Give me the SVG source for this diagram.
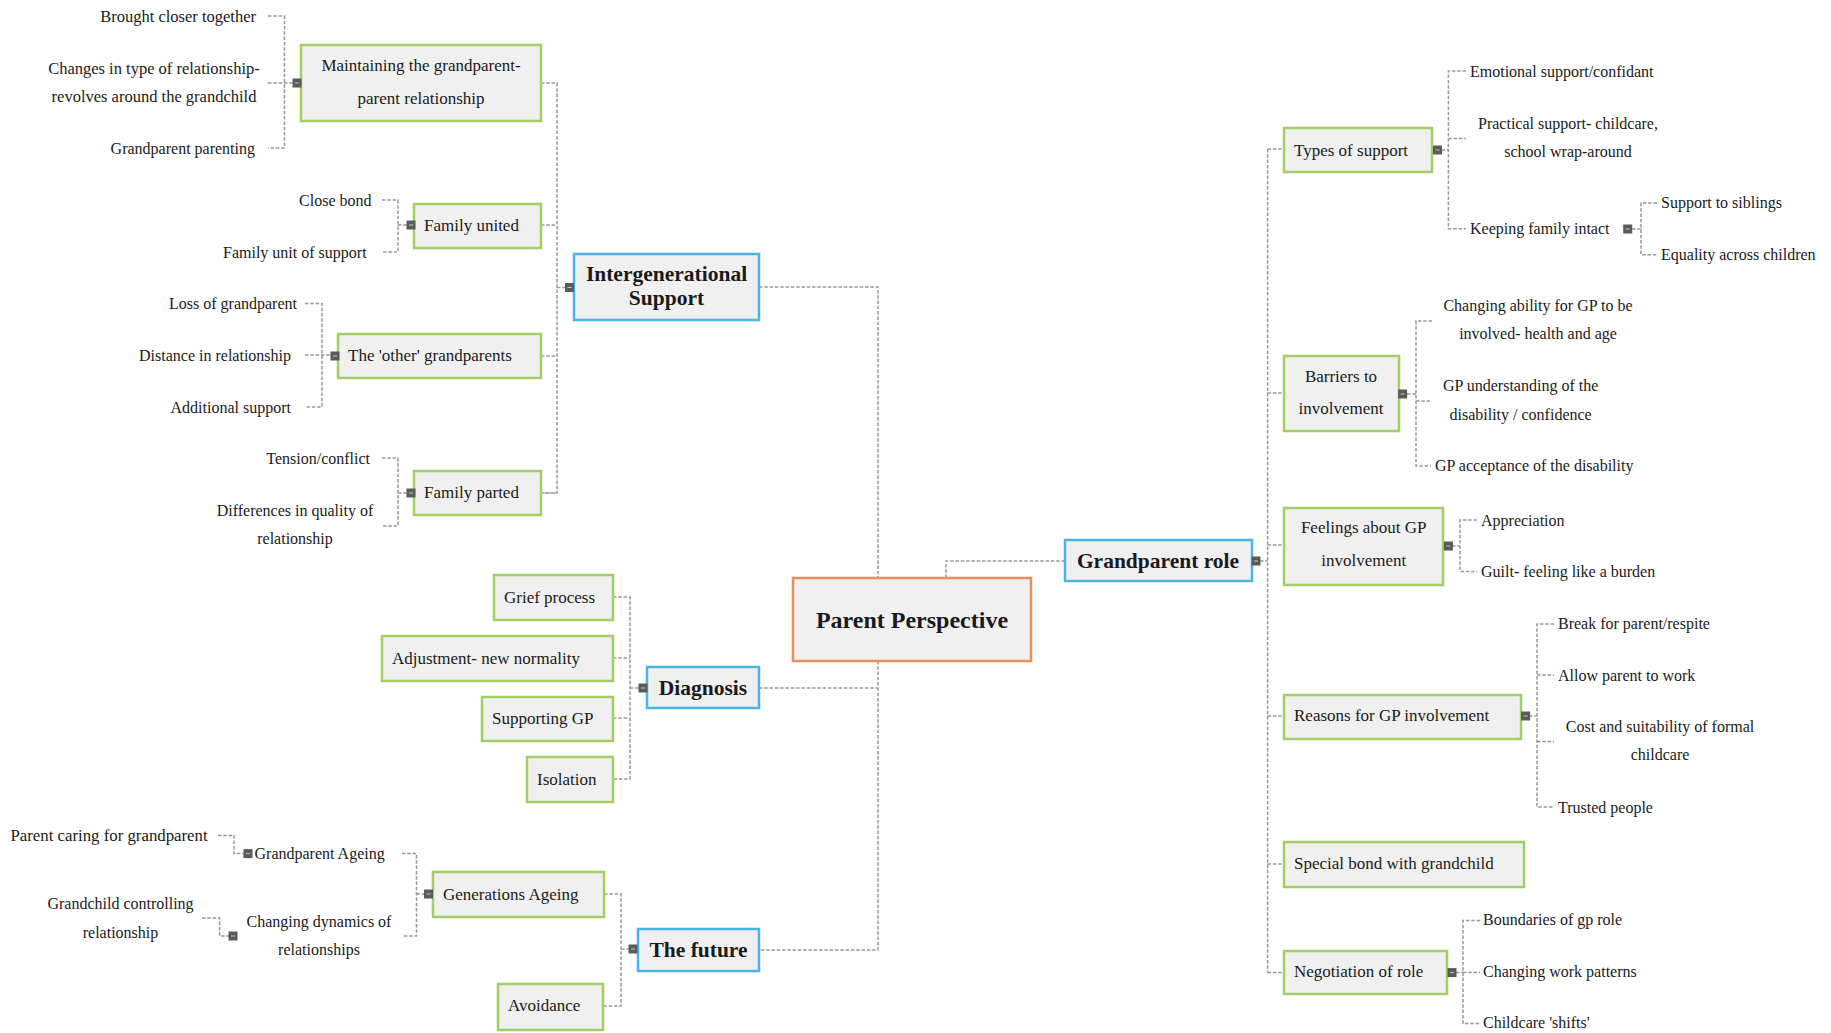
<svg xmlns="http://www.w3.org/2000/svg" xmlns:xlink="http://www.w3.org/1999/xlink" width="1831" height="1033" viewBox="0 0 1831 1033">
<style>
text{font-family:"Liberation Serif","Times New Roman",serif;fill:#1a1a1a}
.lf{font-size:16px}
.bx{font-size:17px}
.hd{font-size:21.5px;font-weight:bold}
.c{text-anchor:middle}
.r{text-anchor:end}
.g{fill:#f0f0f0;stroke:#a2cf64;stroke-width:2.5}
.b{fill:#f0f0f0;stroke:#4ab4e4;stroke-width:2.5}
.o{fill:#f0f0f0;stroke:#e8905e;stroke-width:2.5}
.cn path{fill:none;stroke:#999999;stroke-width:1.5;stroke-dasharray:3.5 1.8}
</style>
<defs>
<g id="tg"><rect x="-4.5" y="-4.5" width="9" height="9" fill="#5a5a5a"/><line x1="-2" y1="0" x2="2" y2="0" stroke="#c8c8c8" stroke-width="1"/></g>
</defs>
<rect width="1831" height="1033" fill="#ffffff"/>
<g id="connectors" class="cn">
<path d="M759 287 H878 V950 H759 M759 688 H878"/>
<path d="M946 578 V561 H1065"/>
<path d="M541 83 H557 V493 H541 M541 225 H557 M541 356 H557 M541 493 H557 M557 287.5 H566"/>
<path d="M268 16 H284.5 V148 H268 M268 83 H293"/>
<path d="M382 200 H398 V252 H382 M398 225 H407"/>
<path d="M305 303.5 H322 V407 H305 M305 355 H331"/>
<path d="M382 458 H398 V526 H382 M398 493 H407"/>
<path d="M613 597 H630 V779 H613 M613 658 H630 M613 718 H630 M630 688 H639"/>
<path d="M604 894 H621 V1006 H603 M621 949 H629"/>
<path d="M402 853.6 H416.5 V936 H402 M416.5 894 H424.5"/>
<path d="M218 835.4 H234 V853.6 H244"/>
<path d="M202 918 H219.6 V936 H229"/>
<path d="M1260 561 H1267.6 M1267.6 149 V972.6 M1267.6 149 H1284 M1267.6 393 H1284 M1267.6 545 H1284 M1267.6 716 H1284 M1267.6 864 H1284 M1267.6 972.6 H1284"/>
<path d="M1441.5 150 H1448.4 M1466 71 H1448.4 V228.8 H1466 M1448.4 138.6 H1466"/>
<path d="M1632 229 H1641 M1657 203 H1641 V254.7 H1657"/>
<path d="M1407 394 H1416 M1432 321 H1416 V466 H1431 M1416 401 H1432"/>
<path d="M1452 546 H1460 M1477 520 H1460 V571.4 H1477"/>
<path d="M1529 716 H1537 M1554 624 H1537 V807 H1554 M1537 675 H1554 M1537 741.4 H1554"/>
<path d="M1456 972.6 H1463 M1480 920.6 H1463 V1023.6 H1480 M1463 972.6 H1480"/>
</g>

<g id="n-center"><rect class="o" x="793" y="578" width="238" height="83"/><text class="c" x="912" y="628" style="font-size:24px;font-weight:bold">Parent Perspective</text></g>

<g id="n-intergen"><rect class="b" x="574" y="254" width="185" height="66"/><text class="hd c" x="666.5" y="281">Intergenerational</text><text class="hd c" x="666.5" y="304.5">Support</text><use xlink:href="#tg" x="569.5" y="287.5"/></g>
<g id="n-diagnosis"><rect class="b" x="647" y="667" width="112" height="41"/><text class="hd c" x="703" y="694.5">Diagnosis</text><use xlink:href="#tg" x="643" y="688"/></g>
<g id="n-future"><rect class="b" x="638" y="929" width="121" height="42"/><text class="hd c" x="698.5" y="956.5">The future</text><use xlink:href="#tg" x="633" y="949"/></g>
<g id="n-gprole"><rect class="b" x="1065" y="540" width="187" height="41"/><text class="hd c" x="1158" y="567.5">Grandparent role</text><use xlink:href="#tg" x="1256" y="561"/></g>

<g id="n-maintaining"><rect class="g" x="301" y="45" width="240" height="76"/><text class="bx c" x="421" y="71">Maintaining the grandparent-</text><text class="bx c" x="421" y="103.5">parent relationship</text><use xlink:href="#tg" x="297" y="83"/></g>
<g id="l-brought"><text class="lf r" x="256" y="21.5" style="font-size:16.5px">Brought closer together</text></g>
<g id="l-changes"><text class="lf c" x="154" y="73.5" style="font-size:16.5px">Changes in type of relationship-</text><text class="lf c" x="154" y="101.5" style="font-size:16.5px">revolves around the grandchild</text></g>
<g id="l-gpparenting"><text class="lf r" x="255" y="153.5">Grandparent parenting</text></g>

<g id="n-united"><rect class="g" x="414" y="204" width="127" height="44"/><text class="bx" x="424" y="231">Family united</text><use xlink:href="#tg" x="411" y="225"/></g>
<g id="l-closebond"><text class="lf r" x="371.5" y="205.5">Close bond</text></g>
<g id="l-unit"><text class="lf r" x="366.6" y="257.5">Family unit of support</text></g>

<g id="n-other"><rect class="g" x="338" y="334" width="203" height="44"/><text class="bx" x="348" y="361">The 'other' grandparents</text><use xlink:href="#tg" x="335" y="356"/></g>
<g id="l-loss"><text class="lf r" x="297" y="309">Loss of grandparent</text></g>
<g id="l-distance"><text class="lf r" x="291" y="360.5">Distance in relationship</text></g>
<g id="l-additional"><text class="lf r" x="291" y="412.5">Additional support</text></g>

<g id="n-parted"><rect class="g" x="414" y="471" width="127" height="44"/><text class="bx" x="424" y="498">Family parted</text><use xlink:href="#tg" x="411" y="493"/></g>
<g id="l-tension"><text class="lf r" x="370" y="463.5">Tension/conflict</text></g>
<g id="l-differences"><text class="lf c" x="295" y="515.5">Differences in quality of</text><text class="lf c" x="295" y="543.5">relationship</text></g>

<g id="n-grief"><rect class="g" x="494" y="575" width="119" height="45"/><text class="bx" x="504" y="603">Grief process</text></g>
<g id="n-adjust"><rect class="g" x="382" y="636" width="231" height="45"/><text class="bx" x="392" y="664">Adjustment- new normality</text></g>
<g id="n-supgp"><rect class="g" x="482" y="697" width="131" height="44"/><text class="bx" x="492" y="724">Supporting GP</text></g>
<g id="n-isolation"><rect class="g" x="527" y="757" width="86" height="45"/><text class="bx" x="537" y="784.5">Isolation</text></g>

<g id="n-genageing"><rect class="g" x="433" y="872" width="171" height="45"/><text class="bx" x="443" y="900">Generations Ageing</text><use xlink:href="#tg" x="428.5" y="894"/></g>
<g id="n-avoid"><rect class="g" x="498" y="984" width="105" height="46"/><text class="bx" x="508" y="1011">Avoidance</text></g>
<g id="l-gpageing"><text class="lf" x="254.5" y="858.6">Grandparent Ageing</text><use xlink:href="#tg" x="248" y="853.6"/></g>
<g id="l-dynamics"><text class="lf c" x="319" y="926.7">Changing dynamics of</text><text class="lf c" x="319" y="955">relationships</text><use xlink:href="#tg" x="233" y="936"/></g>
<g id="l-caring"><text class="lf r" x="207.6" y="841" style="font-size:16.8px">Parent caring for grandparent</text></g>
<g id="l-controlling"><text class="lf c" x="120.5" y="909">Grandchild controlling</text><text class="lf c" x="120.5" y="937.5">relationship</text></g>

<g id="n-types"><rect class="g" x="1284" y="128" width="148" height="44"/><text class="bx" x="1294" y="156">Types of support</text><use xlink:href="#tg" x="1437.5" y="150"/></g>
<g id="l-emotional"><text class="lf" x="1470" y="76.5">Emotional support/confidant</text></g>
<g id="l-practical"><text class="lf c" x="1568" y="128.5">Practical support- childcare,</text><text class="lf c" x="1568" y="156.5">school wrap-around</text></g>
<g id="l-keeping"><text class="lf" x="1470" y="234">Keeping family intact</text><use xlink:href="#tg" x="1627.7" y="229"/></g>
<g id="l-siblings"><text class="lf" x="1661" y="208">Support to siblings</text></g>
<g id="l-equality"><text class="lf" x="1661" y="260">Equality across children</text></g>

<g id="n-barriers"><rect class="g" x="1284" y="356" width="115" height="75"/><text class="bx c" x="1341" y="381.5">Barriers to</text><text class="bx c" x="1341" y="414">involvement</text><use xlink:href="#tg" x="1402.6" y="394"/></g>
<g id="l-ability"><text class="lf c" x="1538" y="311">Changing ability for GP to be</text><text class="lf c" x="1538" y="339">involved- health and age</text></g>
<g id="l-understanding"><text class="lf c" x="1520.6" y="391">GP understanding of the</text><text class="lf c" x="1520.6" y="419.5">disability / confidence</text></g>
<g id="l-acceptance"><text class="lf" x="1435" y="471">GP acceptance of the disability</text></g>

<g id="n-feelings"><rect class="g" x="1284" y="508" width="159" height="77"/><text class="bx c" x="1363.7" y="533">Feelings about GP</text><text class="bx c" x="1363.7" y="566">involvement</text><use xlink:href="#tg" x="1448.4" y="546"/></g>
<g id="l-appreciation"><text class="lf" x="1481" y="525.5">Appreciation</text></g>
<g id="l-guilt"><text class="lf" x="1481" y="576.5">Guilt- feeling like a burden</text></g>

<g id="n-reasons"><rect class="g" x="1284" y="695" width="237" height="44"/><text class="bx" x="1294" y="721">Reasons for GP involvement</text><use xlink:href="#tg" x="1525.6" y="716"/></g>
<g id="l-break"><text class="lf" x="1558" y="629">Break for parent/respite</text></g>
<g id="l-allow"><text class="lf" x="1558" y="680.5">Allow parent to work</text></g>
<g id="l-cost"><text class="lf c" x="1660" y="732">Cost and suitability of formal</text><text class="lf c" x="1660" y="760">childcare</text></g>
<g id="l-trusted"><text class="lf" x="1558" y="812.5">Trusted people</text></g>

<g id="n-special"><rect class="g" x="1284" y="842" width="240" height="45"/><text class="bx" x="1294" y="869">Special bond with grandchild</text></g>

<g id="n-negotiation"><rect class="g" x="1284" y="951" width="163" height="43"/><text class="bx" x="1294" y="977">Negotiation of role</text><use xlink:href="#tg" x="1452" y="972.6"/></g>
<g id="l-boundaries"><text class="lf" x="1483" y="924.5">Boundaries of gp role</text></g>
<g id="l-work"><text class="lf" x="1483" y="977">Changing work patterns</text></g>
<g id="l-shifts"><text class="lf" x="1483" y="1027.5">Childcare 'shifts'</text></g>
</svg>
